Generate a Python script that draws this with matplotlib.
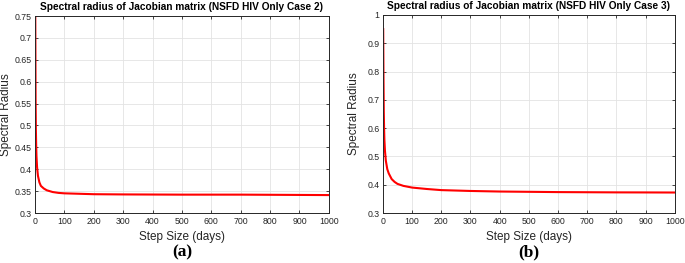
import matplotlib
matplotlib.use("Agg")
import matplotlib.pyplot as plt

plt.rcParams['font.family'] = ['Liberation Sans', 'DejaVu Sans']

# Data
x_a = [1, 2, 3, 4, 5, 7, 10, 15, 20, 30, 40, 60, 80, 100, 150, 200, 300, 500, 700, 1000]
y_a = [0.75, 0.56, 0.49, 0.455, 0.43, 0.405, 0.385, 0.37, 0.362, 0.356, 0.352, 0.348,
       0.346, 0.345, 0.344, 0.343, 0.3425, 0.342, 0.342, 0.341]

x_b = [1, 2, 3, 4, 5, 7, 10, 15, 20, 30, 40, 50, 70, 100, 150, 200, 300, 400, 500,
       600, 700, 800, 900, 1000]
y_b = [0.95, 0.78, 0.66, 0.6, 0.56, 0.52, 0.485, 0.455, 0.44, 0.42, 0.41, 0.403, 0.396,
       0.39, 0.385, 0.381, 0.378, 0.376, 0.375, 0.374, 0.3735, 0.373, 0.3728, 0.3725]

titles = ["Spectral radius of Jacobian matrix (NSFD HIV Only Case 2)",
          "Spectral radius of Jacobian matrix (NSFD HIV Only Case 3)"]
captions = ["(a)", "(b)"]
xticks = list(range(0, 1001, 100))
yticks_a = [0.3, 0.35, 0.4, 0.45, 0.5, 0.55, 0.6, 0.65, 0.7, 0.75]
yticklabels_a = ["0.3", "0.35", "0.4", "0.45", "0.5", "0.55", "0.6", "0.65", "0.7", "0.75"]
yticks_b = [0.3, 0.4, 0.5, 0.6, 0.7, 0.8, 0.9, 1.0]
yticklabels_b = ["0.3", "0.4", "0.5", "0.6", "0.7", "0.8", "0.9", "1"]

fig = plt.figure(figsize=(6.85, 2.63), dpi=100)
ax1 = fig.add_axes([0.0511, 0.19, 0.429, 0.749])
ax2 = fig.add_axes([0.559, 0.19, 0.426, 0.753])

setups = [(ax1, x_a, y_a, yticks_a, yticklabels_a, (0.3, 0.75)),
          (ax2, x_b, y_b, yticks_b, yticklabels_b, (0.3, 1.0))]

axc = '#262626'
for i, (ax, xs, ys, yt, ytl, ylim) in enumerate(setups):
    ax.plot(xs, ys, color='red', lw=1.5)
    ax.set_xlim(0, 1000)
    ax.set_ylim(*ylim)
    ax.set_xticks(xticks)
    ax.set_xticklabels([str(t) for t in xticks])
    ax.set_yticks(yt)
    ax.set_yticklabels(ytl)
    ax.grid(True, color='#e3e3e3', lw=0.6)
    ax.set_axisbelow(True)
    ax.tick_params(direction='in', length=2.5, width=0.6, labelsize=6.3,
                   colors=axc, labelcolor='#262626', top=True, right=True, pad=2.5)
    for s in ax.spines.values():
        s.set_color(axc)
        s.set_linewidth(0.7)
    ax.set_xlabel("Step Size (days)", fontsize=8.5, color='#262626', labelpad=4)
    ax.set_ylabel("Spectral Radius", fontsize=8.5, color='#262626')
    ax.yaxis.set_label_coords(-0.077, 0.5)
    ax.set_title(titles[i], fontsize=7.3, fontweight='bold', pad=4)
    ax.text(0.5, -0.16, captions[i], transform=ax.transAxes, ha='center', va='top',
            fontsize=12.5, fontweight='bold', family=['Liberation Serif', 'DejaVu Serif'])

fig.savefig("out.png", dpi=100)
